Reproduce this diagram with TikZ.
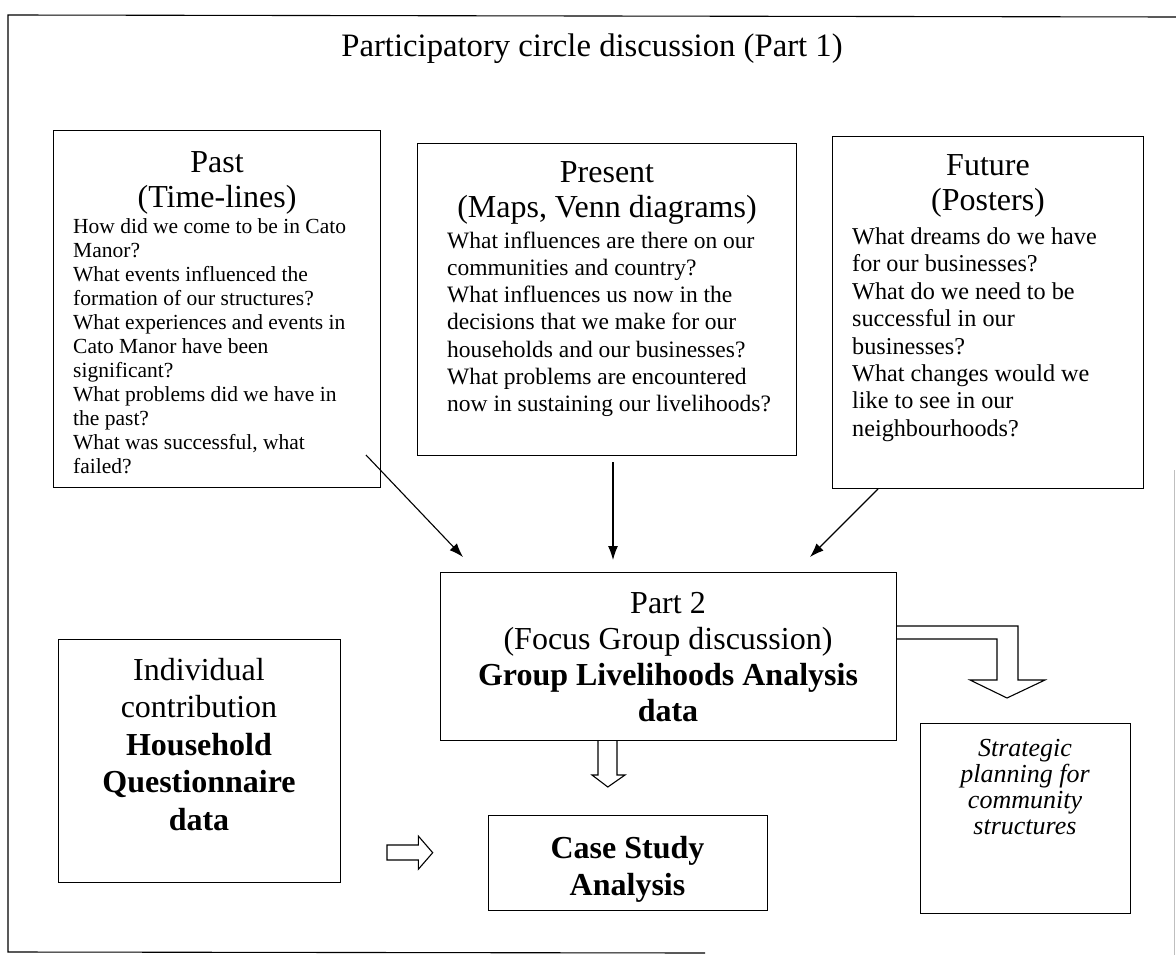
\documentclass[tikz,border=0pt]{standalone}
\usepackage{fontspec}
\setmainfont{Liberation Serif}
\usetikzlibrary{arrows.meta}
\begin{document}
\begin{tikzpicture}[x=1pt,y=-1pt,
  box/.style={draw=black, line width=1.1pt, inner sep=0pt, anchor=north west},
  txt/.style={inner sep=0pt},
  flow/.style={line width=1.1pt, -{Latex[length=14pt,width=10pt]}},
  hollow/.style={draw=black, line width=1.1pt, line join=miter},
  frameline/.style={draw=black, line width=1.1pt},
]
\useasboundingbox (0,0) rectangle (1176,963);

% outer frame
\coordinate (fTL) at (8,15);
\coordinate (fTR) at (1176,17);
\coordinate (fBL) at (8,952);
\coordinate (fBR) at (705,953);
\draw[frameline] (fTR) -- (fTL) -- (fBL) -- (fBR);
\draw[gray!50, line width=0.8pt] (1174,470) -- (1174,955);

% title
\node[txt, anchor=base, font=\fontsize{32.7}{36}\selectfont] (title) at (592,57)
  {Participatory circle discussion (Part 1)};

% the three time boxes
\node[box, minimum width=327pt, minimum height=357pt] (past) at (53,130) {};
\node[box, minimum width=379pt, minimum height=312pt] (present) at (417,143) {};
\node[box, minimum width=311pt, minimum height=352pt] (future) at (832,136) {};

\node[txt, anchor=north, align=center, font=\fontsize{32}{35}\selectfont] (pastH) at (217,151)
  {Past\\(Time-lines)};
\node[txt, anchor=north west, align=left, font=\fontsize{21.5}{24}\selectfont] (pastQ) at (73,218.3)
  {How did we come to be in Cato\\Manor?\\What events influenced the\\formation of our structures?\\What experiences and events in\\Cato Manor have been\\significant?\\What problems did we have in\\the past?\\What was successful, what\\failed?};

\node[txt, anchor=north, align=center, font=\fontsize{32}{35}\selectfont] (presentH) at (607,161.8)
  {Present\\(Maps, Venn diagrams)};
\node[txt, anchor=north west, align=left, font=\fontsize{23.5}{27.2}\selectfont] (presentQ) at (447,231.6)
  {What influences are there on our\\communities and country?\\What influences us now in the\\decisions that we make for our\\households and our businesses?\\What problems are encountered\\now in sustaining our livelihoods?};

\node[txt, anchor=north, align=center, font=\fontsize{32}{35}\selectfont] (futureH) at (988,154.8)
  {Future\\(Posters)};
\node[txt, anchor=north west, align=left, font=\fontsize{24.2}{27.4}\selectfont] (futureQ) at (852,227.5)
  {What dreams do we have\\for our businesses?\\What do we need to be\\successful in our\\businesses?\\What changes would we\\like to see in our\\neighbourhoods?};

% part 2 and the lower boxes
\node[box, minimum width=456pt, minimum height=168pt] (part2) at (440,572) {};
\node[txt, anchor=north, align=center, font=\fontsize{32}{36}\selectfont] (part2T) at (668,592.4)
  {Part 2\\(Focus Group discussion)\\\textbf{Group Livelihoods Analysis}\\\textbf{data}};

\node[box, minimum width=282pt, minimum height=243pt] (indiv) at (58,639) {};
\node[txt, anchor=north, align=center, font=\fontsize{32}{37.5}\selectfont] (indivT) at (199,658)
  {Individual\\contribution\\\textbf{Household}\\\textbf{Questionnaire}\\\textbf{data}};

\node[box, minimum width=279pt, minimum height=95pt] (caseb) at (488,815) {};
\node[txt, anchor=north, align=center, font=\fontsize{32}{37}\selectfont\bfseries] (caseT) at (627.5,836)
  {Case Study\\Analysis};

\node[box, minimum width=210pt, minimum height=190pt] (strat) at (920,723) {};
\node[txt, anchor=north, align=center, font=\fontsize{26}{26}\selectfont\itshape] (stratT) at (1025,738.7)
  {Strategic\\planning for\\community\\structures};

% thin arrows into part 2
\coordinate (a1s) at (366,455);
\coordinate (a1e) at (463,557);
\coordinate (a2s) at (613,462);
\coordinate (a2e) at (613,560);
\coordinate (a3s) at (878,489);
\coordinate (a3e) at (810,557);
\draw[flow] (a1s) -- (a1e);
\draw[flow] (a2s) -- (a2e);
\draw[flow] (a3s) -- (a3e);

% hollow block arrows
\draw[hollow] (598,740) -- (598,775) -- (592,775) -- (607.8,787) -- (625,775) -- (617,775) -- (617,740);
\draw[hollow] (387,845) -- (418.3,845) -- (418.3,836) -- (432.7,852.7) -- (418.3,869.3) -- (418.3,860) -- (387,860) -- cycle;
\draw[hollow] (896,626) -- (1018,626) -- (1018,680) -- (1045,680) -- (1007,698) -- (970,680) -- (997,680) -- (997,639) -- (896,639);
\end{tikzpicture}
\end{document}
